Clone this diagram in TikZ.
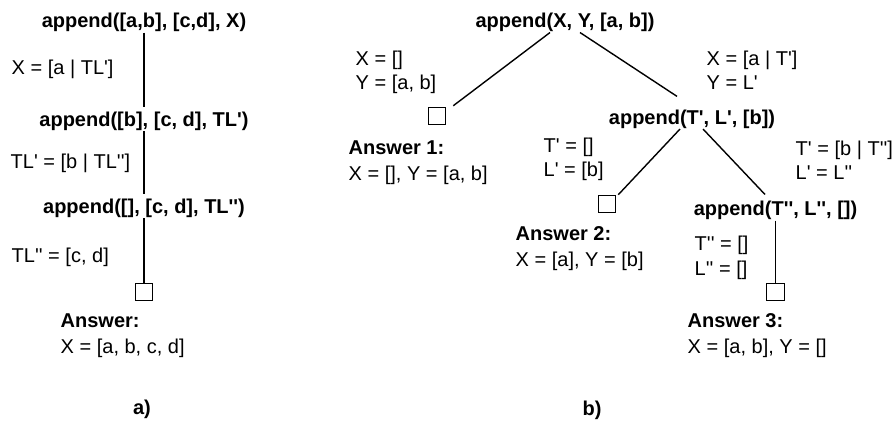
\documentclass[tikz,border=0pt]{standalone}
\usepackage{fontspec}
\setmainfont{Liberation Sans}[Ligatures=TeXOff]

\begin{document}
\begin{tikzpicture}[x=1pt,y=-1pt,line width=1.4pt,
	font=\fontsize{20}{23.5}\selectfont,
	goal/.style={font=\fontsize{20}{23.5}\selectfont\bfseries,inner sep=0pt},
	bind/.style={align=left,anchor=north west,inner sep=0pt},
	answer/.style={align=left,anchor=north west,inner sep=0pt},
	leaf/.style={draw,line width=1pt,minimum width=\BoxSize,minimum height=\BoxSize,inner sep=0pt}]

% ---------- Parameters of the drawing ----------
\def\BoxSize{17.5pt}       % Side of an empty box (success leaf)
\def\GoalGap{4pt}          % Gap between a connector and the goal below it
\def\AnswerSkip{2.5pt}     % Extra space under the word "Answer"

% (0,0) coordinate = upper left corner, y grows downwards
\useasboundingbox (0,0) rectangle (896,421);

% ---------- a) Derivation of append([a,b], [c,d], X) ----------
\node[goal] (t0) at (144,22.5) {append([a,b], [c,d], X)};
\node[goal] (t1) at (144,121) {append([b], [c, d], TL')};
\node[goal] (t2) at (144,208) {append([], [c, d], TL'')};
\node[leaf] (a0) at (144,292) {};

\draw[shorten >=\GoalGap] (t0) -- (t1);
\draw[shorten >=\GoalGap] (t1) -- (t2);
\draw (t2) -- (a0);

% Bindings
\node[anchor=base west,inner sep=0pt] (s0) at (11,74) {X = [a | TL']};
\node[anchor=base west,inner sep=0pt] (s1) at (10,168) {TL' = [b | TL'']};
\node[anchor=base west,inner sep=0pt] (s2) at (11,262) {TL'' = [c, d]};

% Answer
\node[answer] (ans0) at (60,313) {\textbf{Answer:}\\[\AnswerSkip]X = [a, b, c, d]};

\node[goal] (capa) at (142,409) {a)};

% ---------- b) Derivation of append(X, Y, [a, b]) ----------
\node[goal] (root) at (565,22.5) {append(X, Y, [a, b])};
\node[leaf] (b1) at (437,116) {};
\node[goal] (n1) at (692,119) {append(T', L', [b])};
\node[leaf] (b2) at (607,204) {};
\node[goal] (n2) at (775.5,210.5) {append(T'', L'', [])};
\node[leaf] (b3) at (775.5,292) {};

\draw ([xshift=-15pt]root.south) -- ([xshift=7pt,yshift=1pt]b1.north east);
\draw ([xshift=15pt]root.south) -- ([xshift=-15pt,yshift=12.6pt]n1.north);
\draw ([xshift=-12pt]n1.south) -- ([xshift=2pt]b2.north east);
\draw ([xshift=11pt]n1.south) -- ([xshift=-10.5pt,yshift=6pt]n2.north);
\draw (n2) -- (b3);

% Bindings
\node[bind] (r1) at (355,50.4) {X = []\\Y = [a, b]};
\node[bind] (r2) at (706,50.4) {X = [a | T']\\Y = L'};
\node[bind] (r3) at (543,137.4) {T' = []\\L' = [b]};
\node[bind] (r4) at (795,140.4) {T' = [b | T'']\\L' = L''};
\node[bind] (r5) at (694,235.4) {T'' = []\\[1.5pt]L'' = []};

% Answers
\node[answer] (ans1) at (348,140) {\textbf{Answer 1:}\\[\AnswerSkip]X = [], Y = [a, b]};
\node[answer] (ans2) at (515,226) {\textbf{Answer 2:}\\[\AnswerSkip]X = [a], Y = [b]};
\node[answer] (ans3) at (687,313) {\textbf{Answer 3:}\\[\AnswerSkip]X = [a, b], Y = []};

\node[goal] (capb) at (592,410) {b)};

\end{tikzpicture}
\end{document}
